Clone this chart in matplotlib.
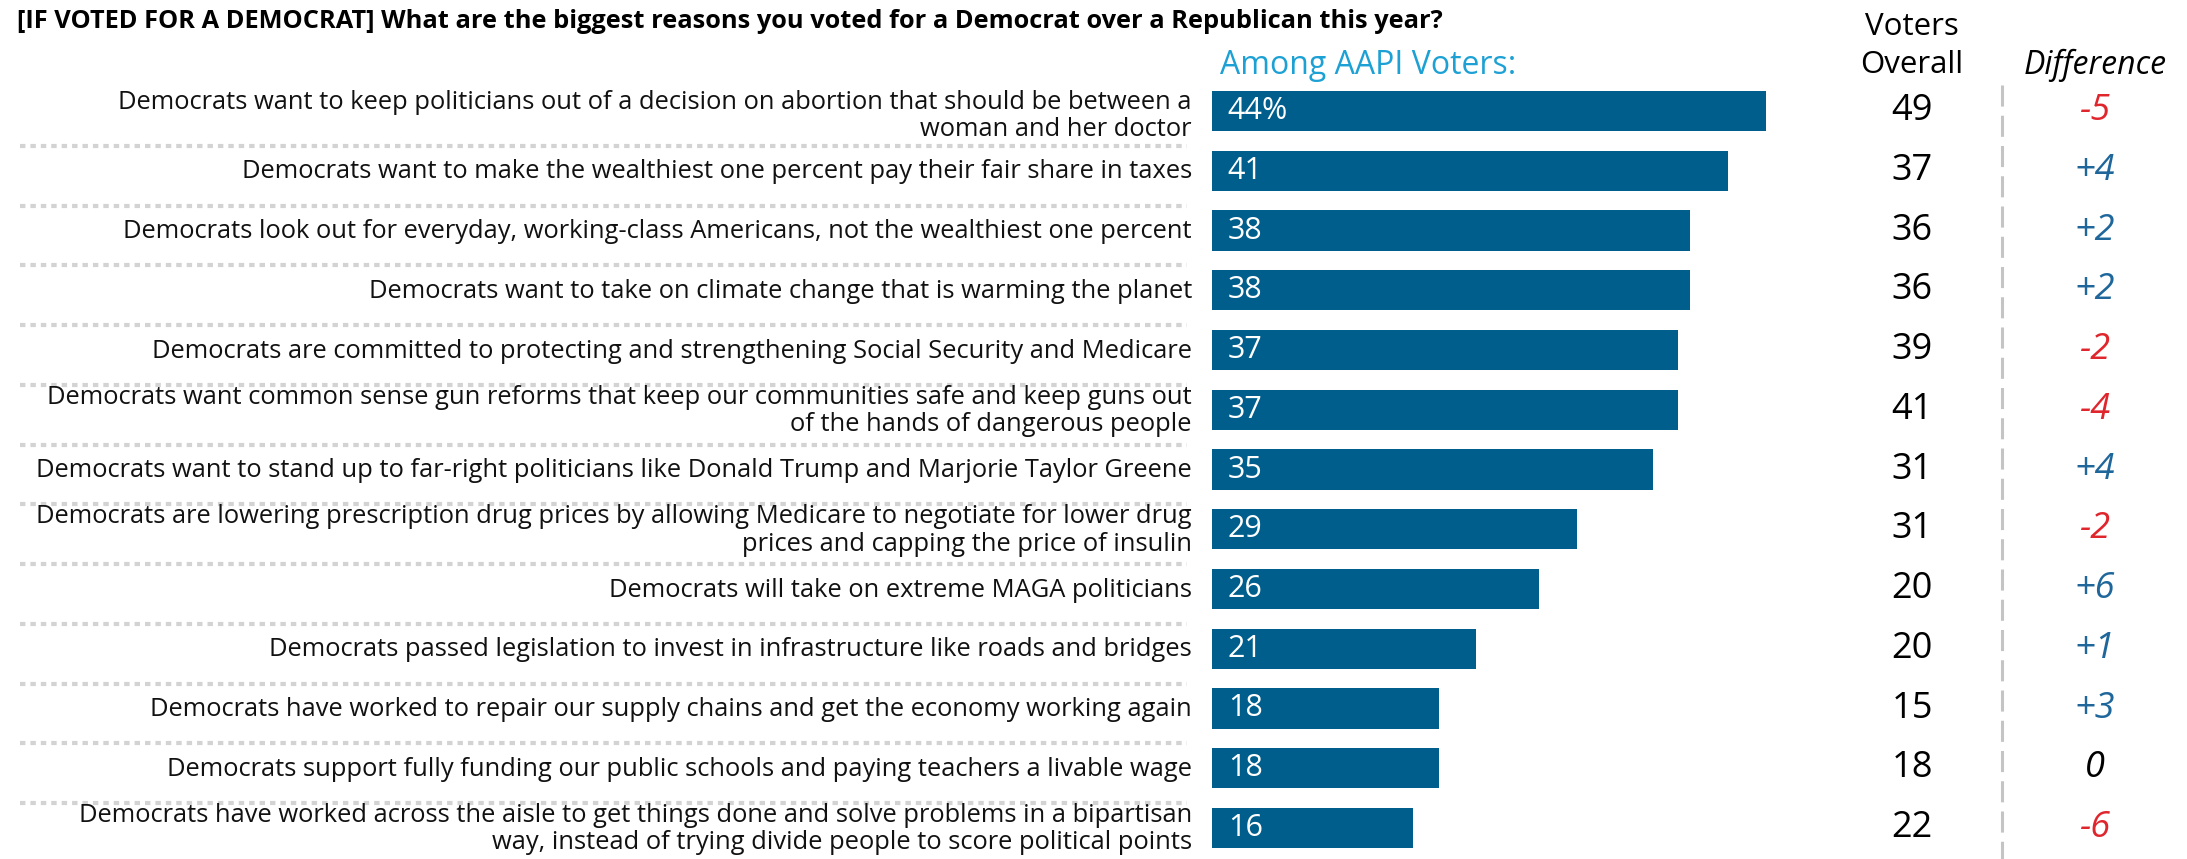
import matplotlib.pyplot as plt
import matplotlib.transforms as mtransforms

plt.rcParams['font.family'] = ['Open Sans', 'DejaVu Sans']

title = '[IF VOTED FOR A DEMOCRAT] What are the biggest reasons you voted for a Democrat over a Republican this year?'
labels = [
    'Democrats want to keep politicians out of a decision on abortion that should be between a\nwoman and her doctor',
    'Democrats want to make the wealthiest one percent pay their fair share in taxes',
    'Democrats look out for everyday, working-class Americans, not the wealthiest one percent',
    'Democrats want to take on climate change that is warming the planet',
    'Democrats are committed to protecting and strengthening Social Security and Medicare',
    'Democrats want common sense gun reforms that keep our communities safe and keep guns out\nof the hands of dangerous people',
    'Democrats want to stand up to far-right politicians like Donald Trump and Marjorie Taylor Greene',
    'Democrats are lowering prescription drug prices by allowing Medicare to negotiate for lower drug\nprices and capping the price of insulin',
    'Democrats will take on extreme MAGA politicians',
    'Democrats passed legislation to invest in infrastructure like roads and bridges',
    'Democrats have worked to repair our supply chains and get the economy working again',
    'Democrats support fully funding our public schools and paying teachers a livable wage',
    'Democrats have worked across the aisle to get things done and solve problems in a bipartisan\nway, instead of trying divide people to score political points',
]
aapi = [44, 41, 38, 38, 37, 37, 35, 29, 26, 21, 18, 18, 16]
overall = [49, 37, 36, 36, 39, 41, 31, 31, 20, 20, 15, 18, 22]
diff = [a - o for a, o in zip(aapi, overall)]

W, H = 2187, 859
BAR_COL = '#005E8C'
POS_COL = '#1F679B'
NEG_COL = '#E0262D'

fig = plt.figure(figsize=(W / 100, H / 100), dpi=100)
ax = fig.add_axes([1212 / W, 0, 975 / W, 1])
ax.set_xlim(0, 975 / 12.59)
ax.set_ylim((H - 111) / 59.75, -111 / 59.75)
ax.axis('off')

rows = list(range(len(labels)))
ax.barh(rows, aapi, height=0.67, color=BAR_COL)

tr = mtransforms.blended_transform_factory(fig.transFigure, ax.transData)

for i in rows:
    txt = f'{aapi[i]}%' if i == 0 else str(aapi[i])
    ax.text(1.25, i, txt, color='white', fontsize=22, fontweight='medium', va='center', ha='left')
    ax.text(1192 / W, i + (0.08 if i == 0 else 0.02), labels[i],
            transform=tr, ha='right', va='center', fontsize=18.35, linespacing=1.12, color='#111111')
    ax.text(1912 / W, i, str(overall[i]), transform=tr, ha='center', va='center',
            fontsize=26, fontweight='medium', color='black')
    d = diff[i]
    if d > 0:
        dt, dc = f'+{d}', POS_COL
    elif d < 0:
        dt, dc = f'-{abs(d)}', NEG_COL
    else:
        dt, dc = '0', 'black'
    ax.text(2095 / W, i, dt, transform=tr, ha='center', va='center',
            fontsize=26, fontweight='medium', style='italic', color=dc)

# dotted separators between rows
for i in rows[:-1]:
    ax.plot([20 / W, 1187 / W], [i + 0.585, i + 0.585], transform=tr, color='#D3D3D3',
            lw=3, dashes=(1.3, 1.2), clip_on=False, solid_capstyle='butt')

# dashed vertical divider
ax.plot([2002 / W, 2002 / W], [-0.435, (H - 111) / 59.75], transform=tr, color='#C4C4C4',
        lw=2.2, dashes=(6.9, 3), clip_on=False)

# headers
fig.text(17 / W, 1 - 22 / H, title, fontsize=18.3, fontweight='bold', va='center', ha='left')
fig.text(1220 / W, 1 - 65 / H, 'Among AAPI Voters:', fontsize=23, color='#1DA1D4',
         va='center', ha='left')
fig.text(1912 / W, 1 - 27 / H, 'Voters', fontsize=22.5, va='center', ha='center')
fig.text(1912 / W, 1 - 65 / H, 'Overall', fontsize=22.5, va='center', ha='center')
fig.text(2095 / W, 1 - 65 / H, 'Difference', fontsize=23, style='italic', va='center', ha='center')

fig.savefig('out.png', dpi=100, facecolor='white')
